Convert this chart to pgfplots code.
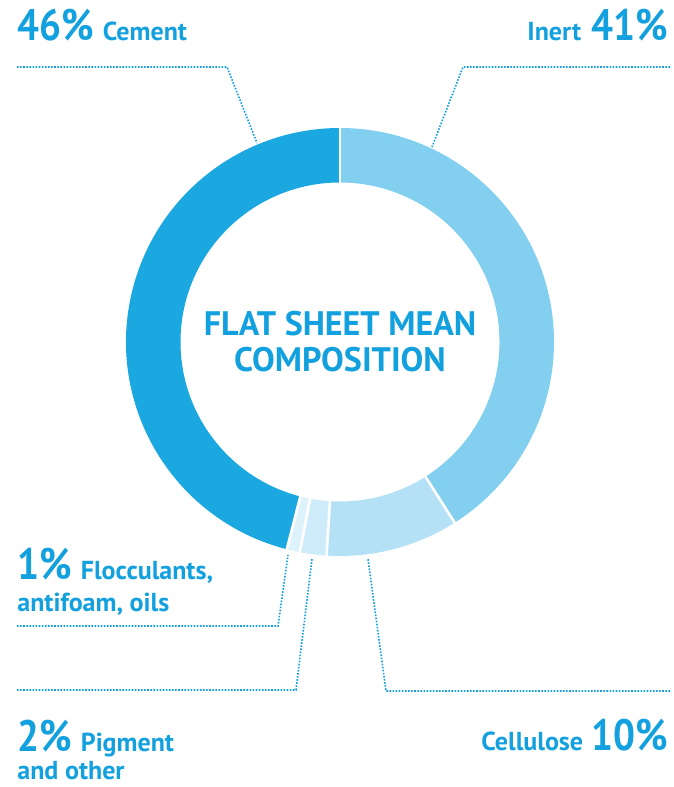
\documentclass[border=0pt]{standalone}
\usepackage{pgfplots}
\pgfplotsset{compat=1.18}
\usepackage{pgfplotstable}
\usepackage{fontspec}
\setmainfont{PT Sans}
\newfontfamily\pctfont[FakeStretch=0.88]{PT Sans}
\definecolor{textblue}{RGB}{18,160,222}
\definecolor{cement}{RGB}{27,168,224}
\definecolor{inert}{RGB}{130,207,240}
\definecolor{cellulose}{RGB}{180,225,245}
\definecolor{pigment}{RGB}{205,235,249}
\definecolor{floc}{RGB}{222,242,251}
\pgfplotstableread{
label value color
Inert 41 inert
Cellulose 10 cellulose
Pigment 2 pigment
Flocculants 1 floc
Cement 46 cement
}\slices
\newcommand{\pct}[1]{{\pctfont\fontsize{22}{24}\selectfont\bfseries #1}}
\newcommand{\lab}[1]{{\fontsize{13}{15}\selectfont\bfseries #1}}
\begin{document}
\begin{tikzpicture}
\begin{axis}[
  scale only axis, width=337pt, height=393.5pt,
  xmin=0, xmax=674, ymin=0, ymax=787,
  enlargelimits=false, hide axis, clip=false,
]
\path (axis cs:0,0) rectangle (axis cs:674,787);
\gdef\startang{90}
\pgfplotsforeachungrouped \i in {0,...,4}{%
  \pgfplotstablegetelem{\i}{value}\of\slices \let\v\pgfplotsretval
  \pgfplotstablegetelem{\i}{color}\of\slices \let\c\pgfplotsretval
  \pgfmathsetmacro\endang{\startang-3.6*\v}%
  \edef\cmd{\noexpand\fill[\c] (axis cs:340,445) ++(\startang:107pt) arc[start angle=\startang, end angle=\endang, radius=107pt] -- ++(\endang:-27.25pt) arc[start angle=\endang, end angle=\startang, radius=79.75pt] -- cycle;}%
  \cmd
  \xdef\startang{\endang}%
}
\gdef\startang{90}
\pgfplotsforeachungrouped \i in {0,...,4}{%
  \pgfplotstablegetelem{\i}{value}\of\slices \let\v\pgfplotsretval
  \pgfmathsetmacro\endang{\startang-3.6*\v}%
  \edef\cmd{\noexpand\draw[white, line width=1.3pt] (axis cs:340,445) ++(\endang:79pt) -- ++(\endang:28.5pt);}%
  \cmd
  \xdef\startang{\endang}%
}
% leader lines
\begin{scope}[textblue, line width=0.8pt, dash pattern=on 0.8pt off 0.75pt]
\draw (axis cs:17,720) -- (axis cs:227,720) -- (axis cs:257,644);
\draw (axis cs:670,720) -- (axis cs:463,720) -- (axis cs:432,640);
\draw (axis cs:17,161) -- (axis cs:278,161) -- (axis cs:288,232);
\draw (axis cs:17,97) -- (axis cs:296,97) -- (axis cs:312,228);
\draw (axis cs:670,96) -- (axis cs:386,96) -- (axis cs:368,228);
\end{scope}
% labels
\begin{scope}[every node/.style={inner sep=0pt, text=textblue}]
\node[anchor=base west] at (axis cs:17,746) {\pct{46\%}\hspace{4.5pt}\lab{Cement}};
\node[anchor=base east] at (axis cs:668,746) {\lab{Inert}\hspace{5pt}\pct{41\%}};
\node[anchor=base west] at (axis cs:17,207) {\pct{1\%}\hspace{4.5pt}\lab{Flocculants,}};
\node[anchor=base west] at (axis cs:17,175) {\lab{antifoam, oils}};
\node[anchor=base west] at (axis cs:17,35) {\pct{2\%}\hspace{4.5pt}\lab{Pigment}};
\node[anchor=base west] at (axis cs:17,7) {\lab{and other}};
\node[anchor=base east] at (axis cs:668,36) {\lab{Cellulose}\hspace{4pt}\pct{10\%}};
\node[anchor=base] at (axis cs:340,451) {\fontsize{17}{20}\selectfont\bfseries FLAT SHEET MEAN};
\node[anchor=base] at (axis cs:340,415) {\fontsize{17}{20}\selectfont\bfseries COMPOSITION};
\end{scope}
\end{axis}
\end{tikzpicture}
\end{document}
